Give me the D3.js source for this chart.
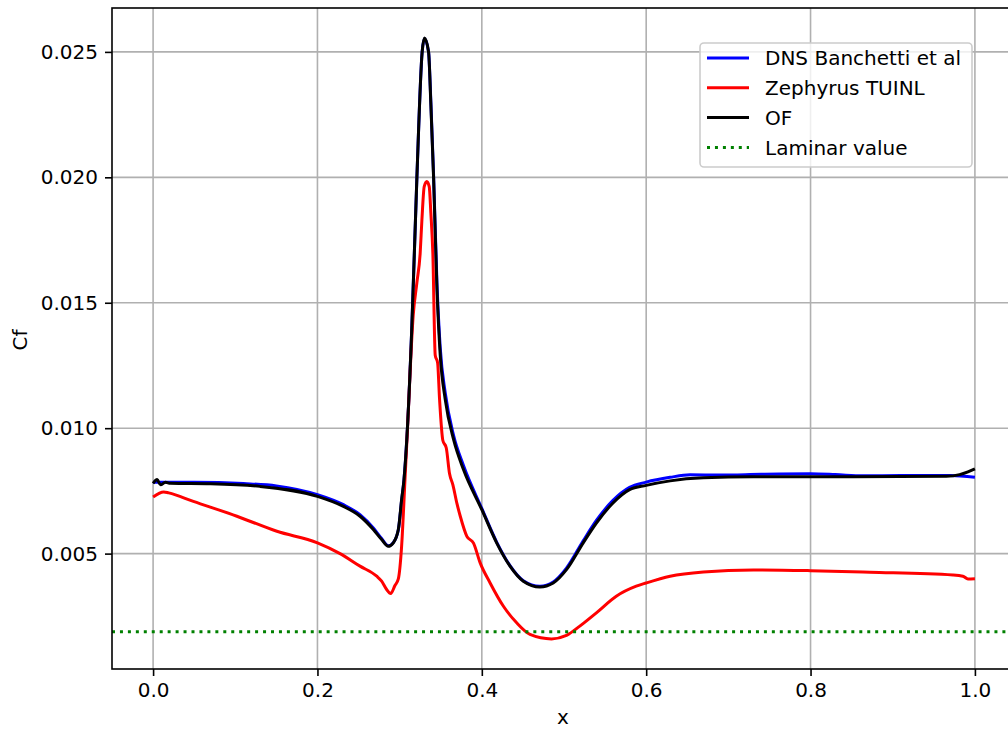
<!DOCTYPE html>
<html>
<head>
<meta charset="utf-8">
<script src="https://cdn.jsdelivr.net/npm/d3@7"></script>
<style>
  html, body { margin: 0; padding: 0; background: #fff; }
  svg { display: block; font-family: "DejaVu Sans", sans-serif; }
</style>
</head>
<body>
<svg id="chart" width="1008" height="731"></svg>
<script>
// ── Data ──────────────────────────────────────────────────────────────────
const dnsX  = [0, 0.05, 0.11, 0.15, 0.2, 0.2316, 0.2518, 0.268, 0.2781, 0.2862, 0.2923, 0.2984, 0.3024, 0.3053, 0.3089, 0.3149, 0.321, 0.3274, 0.3302, 0.3352, 0.338, 0.3413, 0.3454, 0.3494, 0.3555, 0.3657, 0.3778, 0.4, 0.4182, 0.4343, 0.4505, 0.4707, 0.4869, 0.503, 0.5232, 0.5394, 0.5596, 0.5798, 0.6, 0.6291, 0.6534, 0.69, 0.74, 0.8, 0.83, 0.864, 0.91, 0.97, 1.0];
const dnsCf = [0.00784, 0.00784, 0.00779, 0.00770, 0.00735, 0.00695, 0.00655, 0.00602, 0.00560, 0.00531, 0.00544, 0.00594, 0.00712, 0.00795, 0.00966, 0.01409, 0.0200, 0.0250, 0.02553, 0.0250, 0.0230, 0.0201, 0.0158, 0.0132, 0.0114, 0.0097, 0.0085, 0.00680, 0.00545, 0.00452, 0.00392, 0.00370, 0.00387, 0.00442, 0.00550, 0.00632, 0.00712, 0.00764, 0.00785, 0.00804, 0.00814, 0.00813, 0.00816, 0.00818, 0.00815, 0.00810, 0.00811, 0.00811, 0.00804];

const zephX  = [0, 0.013, 0.019, 0.049, 0.102, 0.1506, 0.2, 0.2275, 0.2518, 0.2721, 0.2781, 0.2842, 0.2891, 0.2943, 0.2984, 0.3024, 0.3065, 0.3096, 0.3165, 0.321, 0.325, 0.3271, 0.3299, 0.3331, 0.336, 0.338, 0.3404, 0.3433, 0.3462, 0.3486, 0.3526, 0.3567, 0.3607, 0.3648, 0.3697, 0.3737, 0.3818, 0.3899, 0.398, 0.4101, 0.4263, 0.4424, 0.4586, 0.4848, 0.503, 0.5192, 0.5394, 0.5636, 0.5879, 0.6, 0.6291, 0.6696, 0.7304, 0.8, 0.8721, 0.9733, 0.9854, 0.9915, 1.0];
const zephCf = [0.00726, 0.00746, 0.00742, 0.00708, 0.00649, 0.00589, 0.00543, 0.00500, 0.00450, 0.00410, 0.00390, 0.00357, 0.00341, 0.00373, 0.00399, 0.00529, 0.00795, 0.0100, 0.0145, 0.0158, 0.01698, 0.0183, 0.01963, 0.01983, 0.01963, 0.01857, 0.01698, 0.01291, 0.01261, 0.01114, 0.00951, 0.00922, 0.00819, 0.00774, 0.00700, 0.00650, 0.00569, 0.00542, 0.00463, 0.00383, 0.00290, 0.00224, 0.00178, 0.00160, 0.00174, 0.00211, 0.00264, 0.00330, 0.00370, 0.00383, 0.00410, 0.00427, 0.00435, 0.00432, 0.00426, 0.00415, 0.00410, 0.00399, 0.00400];

const ofX  = [0, 0.005, 0.009, 0.015, 0.021, 0.07, 0.13, 0.2, 0.2316, 0.2518, 0.268, 0.2781, 0.2862, 0.2923, 0.2984, 0.3024, 0.3053, 0.3089, 0.3149, 0.321, 0.3274, 0.3302, 0.3352, 0.338, 0.3413, 0.3454, 0.3494, 0.3555, 0.3657, 0.3778, 0.4, 0.4182, 0.4343, 0.4505, 0.4707, 0.4869, 0.503, 0.5232, 0.5394, 0.5596, 0.5798, 0.6, 0.6291, 0.6696, 0.7304, 0.8518, 0.9652, 0.9814, 0.9915, 1.0];
const ofCf = [0.00780, 0.00795, 0.00774, 0.00784, 0.00780, 0.00778, 0.00768, 0.00728, 0.00688, 0.00649, 0.00596, 0.00556, 0.00529, 0.00543, 0.00596, 0.00715, 0.00795, 0.00966, 0.01409, 0.0200, 0.0250, 0.02555, 0.0250, 0.0229, 0.0200, 0.01556, 0.01291, 0.01114, 0.00954, 0.00834, 0.00675, 0.00542, 0.00450, 0.00390, 0.00367, 0.00383, 0.00436, 0.00542, 0.00622, 0.00702, 0.00755, 0.00772, 0.00790, 0.00802, 0.00806, 0.00806, 0.00808, 0.00815, 0.00826, 0.00838];

const laminarCf = 0.00188;

const xTicks = [0.0, 0.2, 0.4, 0.6, 0.8, 1.0];
const yTicks = [0.005, 0.010, 0.015, 0.020, 0.025];

const seriesNames  = ['DNS Banchetti et al', 'Zephyrus TUINL', 'OF', 'Laminar value'];
const seriesColors = ['#0000ff', '#ff0000', '#000000', '#008000'];

// ── Layout ────────────────────────────────────────────────────────────────
const svg = d3.select('#chart');
const L = 112, T = 8, R = 1016, B = 669;
const FONT = 20;

const x = d3.scaleLinear().domain([-0.05, 1.05]).range([L, R]);
const y = d3.scaleLinear().domain([0.0004, 0.02675]).range([B, T]);

svg.append('defs').append('clipPath').attr('id', 'clip')
  .append('rect').attr('x', L).attr('y', T).attr('width', R - L).attr('height', B - T);

// Grid
const grid = svg.append('g').attr('stroke', '#b0b0b0').attr('stroke-width', 1.6);
grid.selectAll('.gx').data(xTicks).join('line')
  .attr('x1', d => x(d)).attr('x2', d => x(d)).attr('y1', T).attr('y2', B);
grid.selectAll('.gy').data(yTicks).join('line')
  .attr('y1', d => y(d)).attr('y2', d => y(d)).attr('x1', L).attr('x2', R);

// ── Lines ─────────────────────────────────────────────────────────────────
const line = d3.line().x(d => x(d[0])).y(d => y(d[1])).curve(d3.curveMonotoneX);
const plot = svg.append('g').attr('clip-path', 'url(#clip)');

const series = [
  d3.zip(dnsX, dnsCf),
  d3.zip(zephX, zephCf),
  d3.zip(ofX, ofCf),
];
series.forEach((pts, i) => {
  plot.append('path')
    .attr('d', line(pts))
    .attr('fill', 'none')
    .attr('stroke', seriesColors[i])
    .attr('stroke-width', 3)
    .attr('stroke-linejoin', 'round');
});

plot.append('line')
  .attr('x1', x(-0.05)).attr('x2', x(1.05))
  .attr('y1', y(laminarCf)).attr('y2', y(laminarCf))
  .attr('stroke', seriesColors[3]).attr('stroke-width', 3)
  .attr('stroke-dasharray', '3,4.95');

// ── Axes ──────────────────────────────────────────────────────────────────
function styleAxis(g) {
  g.attr('font-family', '"DejaVu Sans", sans-serif').attr('font-size', FONT);
  g.select('.domain').remove();
  g.selectAll('.tick line').attr('stroke', '#000').attr('stroke-width', 1.6);
  g.selectAll('.tick text').attr('fill', '#000');
}

svg.append('g').attr('transform', `translate(0,${B})`)
  .call(d3.axisBottom(x).tickValues(xTicks).tickFormat(d3.format('.1f')).tickSize(7).tickPadding(7))
  .call(styleAxis);

svg.append('g').attr('transform', `translate(${L},0)`)
  .call(d3.axisLeft(y).tickValues(yTicks).tickFormat(d3.format('.3f')).tickSize(7).tickPadding(7))
  .call(styleAxis);

// Spines
svg.append('rect')
  .attr('x', L).attr('y', T).attr('width', R - L).attr('height', B - T)
  .attr('fill', 'none').attr('stroke', '#000').attr('stroke-width', 1.6);

// Axis labels
svg.append('text').attr('x', (L + R) / 2 + 0).attr('y', 724)
  .attr('text-anchor', 'middle').attr('font-size', FONT).text('x')
  .attr('x', 563);
svg.append('text').attr('transform', 'translate(27,340) rotate(-90)')
  .attr('text-anchor', 'middle').attr('font-size', FONT).text('Cf');

// ── Legend ────────────────────────────────────────────────────────────────
const lg = svg.append('g');
lg.append('rect')
  .attr('x', 700).attr('y', 43).attr('width', 272).attr('height', 124)
  .attr('rx', 4).attr('fill', '#fff').attr('fill-opacity', 0.8)
  .attr('stroke', '#cccccc').attr('stroke-width', 1.6);

seriesNames.forEach((name, i) => {
  const cy = 58 + i * 29.8;
  lg.append('line')
    .attr('x1', 707).attr('x2', 749).attr('y1', cy).attr('y2', cy)
    .attr('stroke', seriesColors[i]).attr('stroke-width', 3)
    .attr('stroke-dasharray', i === 3 ? '3,4.95' : null);
  lg.append('text')
    .attr('x', 765).attr('y', cy + 7.3)
    .attr('font-size', FONT).attr('fill', '#000')
    .text(name);
});
</script>
</body>
</html>
